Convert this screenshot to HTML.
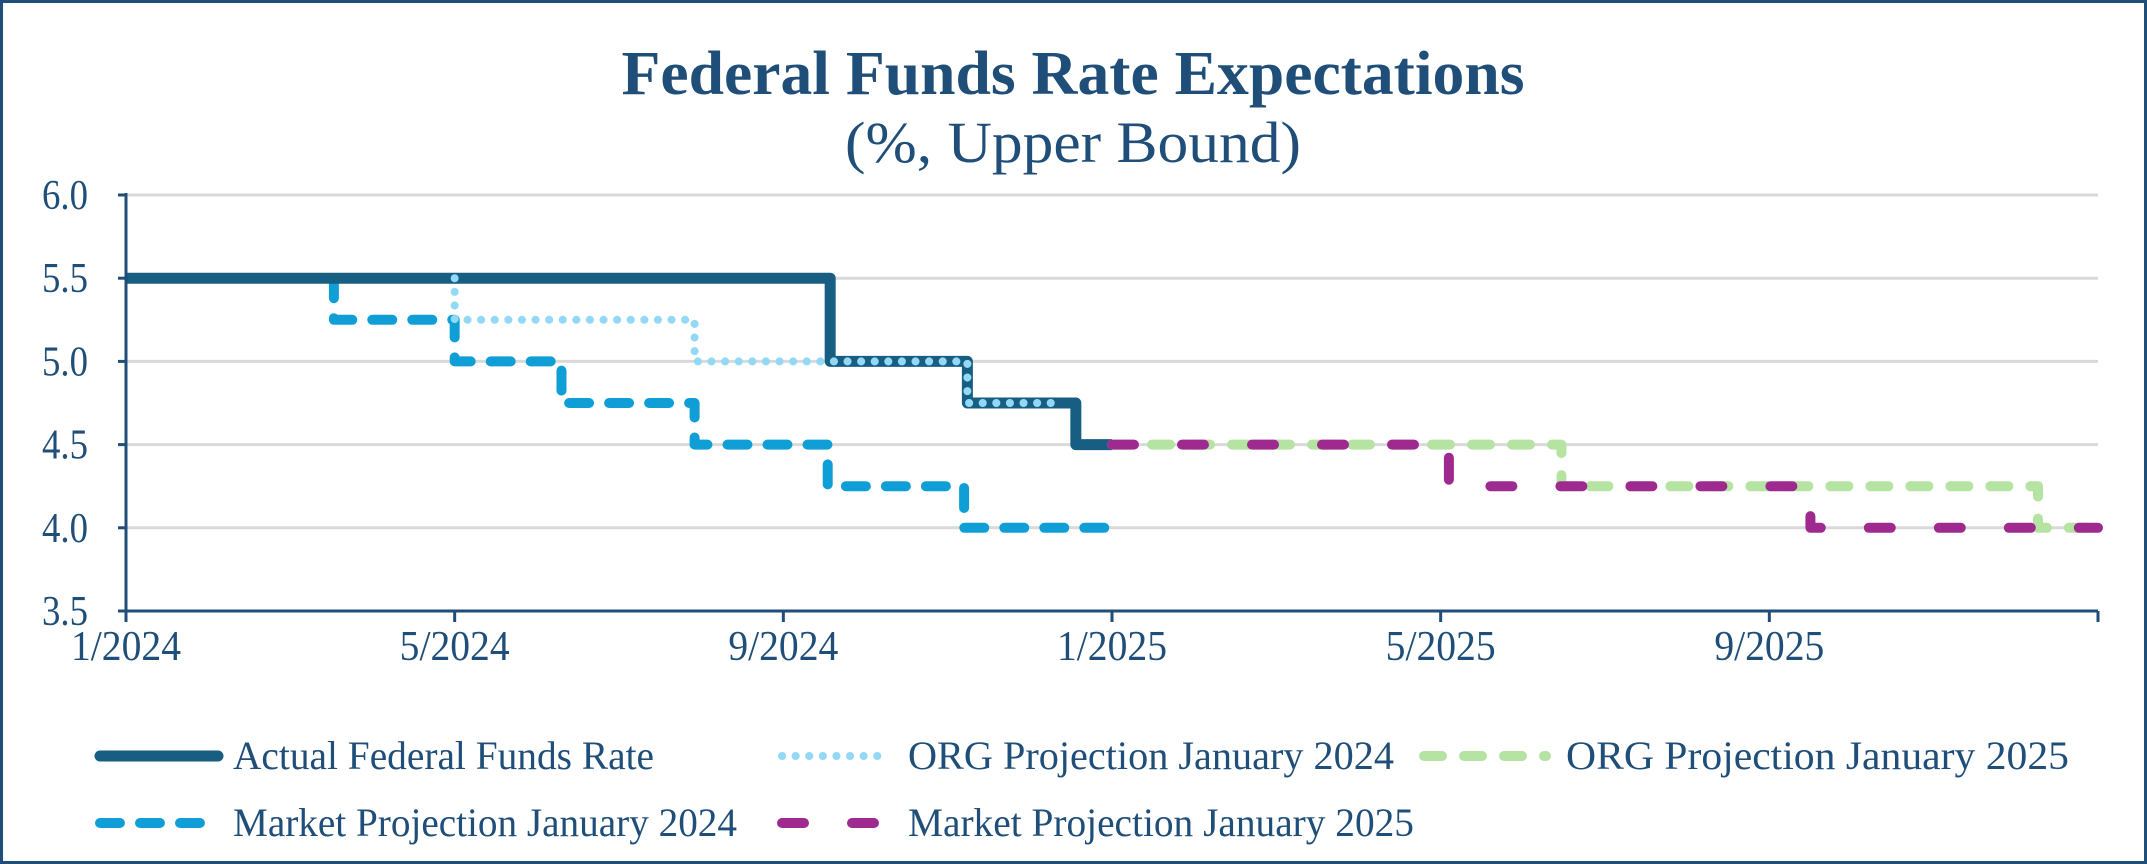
<!DOCTYPE html>
<html><head><meta charset="utf-8"><style>
html,body{margin:0;padding:0;background:#fff}
#wrap{position:relative;width:2147px;height:864px;box-sizing:border-box;border:3px solid #1f4e79;overflow:hidden}
svg text{font-family:"Liberation Serif",serif;fill:#1f4e79}
</style></head><body>
<div id="wrap">
<svg id="chart" width="2141" height="858" viewBox="3 3 2141 858">
<text x="1073" y="94" text-anchor="middle" font-size="62" font-weight="bold" textLength="903" lengthAdjust="spacingAndGlyphs">Federal Funds Rate Expectations</text>
<text x="1073" y="162" text-anchor="middle" font-size="58" textLength="456" lengthAdjust="spacingAndGlyphs">(%, Upper Bound)</text>
<g id="grid"></g><g id="series"></g><g id="axes"></g><g id="legend"></g>
</svg>
</div>
<script>
const yTicks=[3.5,4.0,4.5,5.0,5.5,6.0];
const xTickLabels=["1/2024","5/2024","9/2024","1/2025","5/2025","9/2025"];
const xTickMonths=[0,4,8,12,16,20];
// step series: month index (0 = Jan 2024) of each level start, values
const actualX=[0,8.57,10.24,11.56,12];
const actualY=[5.5,5.0,4.75,4.5,4.5];
const org24X=[4,4,6.92,10.24,11.3];
const org24Y=[5.5,5.25,5.0,4.75,4.75];
const mkt24X=[2.53,2.53,4,5.3,6.92,8.54,10.2,12];
const mkt24Y=[5.5,5.25,5.0,4.75,4.5,4.25,4.0,4.0];
const org25X=[12,17.47,23.27,24];
const org25Y=[4.5,4.25,4.0,4.0];
const mkt25X=[12,16.1,20.5,24];
const mkt25Y=[4.5,4.25,4.0,4.0];

const NS="http://www.w3.org/2000/svg";
const X0=126,X1=2098,Y0=611,Y1=195;
const xs=m=>X0+(X1-X0)*m/24;
const ys=v=>Y0-(Y0-Y1)*(v-3.5)/2.5;
function mk(tag,attrs,parent){const e=document.createElementNS(NS,tag);for(const k in attrs)e.setAttribute(k,attrs[k]);parent.appendChild(e);return e;}
const grid=document.getElementById('grid'),axes=document.getElementById('axes'),ser=document.getElementById('series'),leg=document.getElementById('legend');
yTicks.forEach(v=>{
  if(v>3.5){const g=mk('line',{x1:X0,x2:X1,y1:ys(v),y2:ys(v),stroke:'#d9d9d9','stroke-width':3},grid);
  
  }
  const t=mk('line',{x1:X0-8,x2:X0,y1:ys(v),y2:ys(v),stroke:'#1f4e79','stroke-width':3},axes);
  
  
  const l=mk('text',{x:88,y:ys(v)+14,'text-anchor':'end','font-size':42,textLength:46,lengthAdjust:'spacingAndGlyphs'},axes);l.textContent=v.toFixed(1);
  
  
});
const ya=mk('line',{x1:X0,x2:X0,y1:Y1-2,y2:Y0+10,stroke:'#1f4e79','stroke-width':3},axes);


const xa=mk('line',{x1:X0-8,x2:X1,y1:Y0,y2:Y0,stroke:'#1f4e79','stroke-width':3},axes);


xTickMonths.concat([24]).forEach(m=>{const t=mk('line',{x1:xs(m),x2:xs(m),y1:Y0,y2:Y0+11,stroke:'#1f4e79','stroke-width':3},axes);
  
  });
xTickLabels.forEach((s,i)=>{const l=mk('text',{x:xs(xTickMonths[i]),y:660,'text-anchor':'middle','font-size':42,textLength:110,lengthAdjust:'spacingAndGlyphs'},axes);l.textContent=s;
  
  });
function stepPath(X,Y){let d='M'+xs(X[0])+','+ys(Y[0]);for(let i=1;i<X.length;i++){d+=' H'+xs(X[i])+' V'+ys(Y[i]);}return d;}
const styles={
 actual:{stroke:'#175e82',w:11,dash:'',cap:'butt'},
 mkt24:{stroke:'#0f9fd6',w:10,dash:'20 20',cap:'round'},
 org24:{stroke:'#93d9f5',w:8,dash:'0.1 13.5',cap:'round'},
 org25:{stroke:'#b5e3a2',w:10,dash:'18 22',cap:'round'},
 mkt25:{stroke:'#9e2a90',w:10,dash:'22 48',cap:'round'}
};
function draw(X,Y,s,name){const p=mk('path',{d:stepPath(X,Y),fill:'none',stroke:s.stroke,'stroke-width':s.w,'stroke-dasharray':s.dash,'stroke-linecap':s.cap,'stroke-linejoin':'round'},ser);
 
 }
draw(mkt24X,mkt24Y,styles.mkt24,'series-market-jan-2024');
draw(actualX,actualY,styles.actual,'series-actual-fed-funds');
draw(org24X,org24Y,styles.org24,'series-org-jan-2024');
draw(org25X,org25Y,styles.org25,'series-org-jan-2025');
draw(mkt25X,mkt25Y,styles.mkt25,'series-market-jan-2025');
const legendItems=[
 ['Actual Federal Funds Rate',styles.actual,100,218,233,756,421,40],
 ['ORG Projection January 2024',styles.org24,782,886,908,756,486,40],
 ['ORG Projection January 2025',styles.org25,1424,1546,1566,756,503,40],
 ['Market Projection January 2024',styles.mkt24,100,210,233,823,504,40],
 ['Market Projection January 2025',styles.mkt25,782,886,908,823,506,40]];
legendItems.forEach(it=>{
 const g=mk('g',{},leg);
 
 
 mk('line',{x1:it[2],x2:it[3],y1:it[5],y2:it[5],stroke:it[1].stroke,'stroke-width':it[1].w,'stroke-dasharray':it[1].dash,'stroke-linecap':'round'},g);
 const t=mk('text',{x:it[4],y:it[5]+13,'font-size':it[7],textLength:it[6],lengthAdjust:'spacingAndGlyphs'},g);t.textContent=it[0];
});
</script>
</body></html>
